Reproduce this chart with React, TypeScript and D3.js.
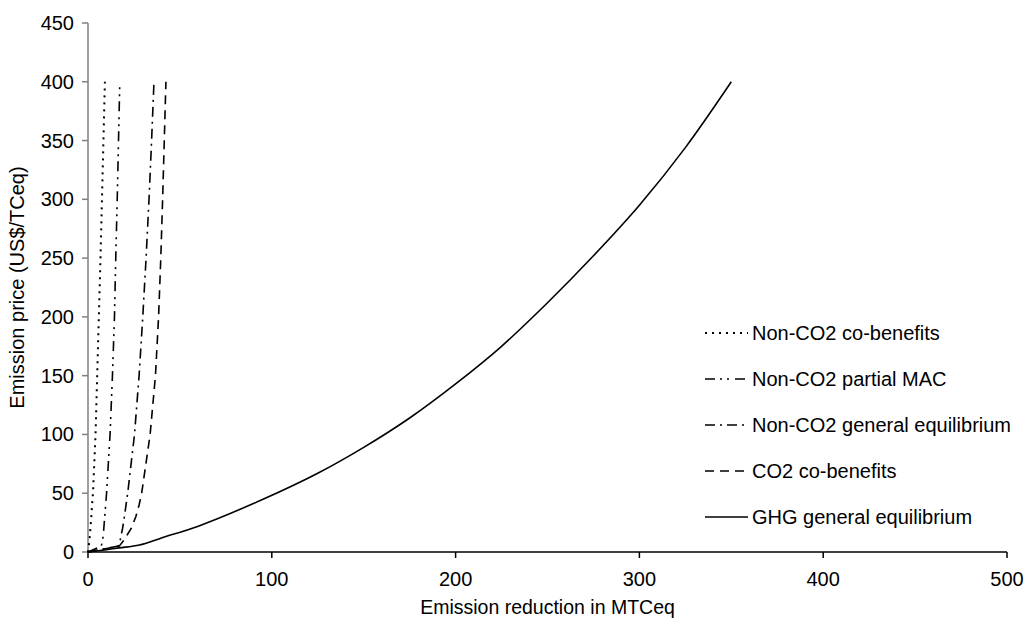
import React from "react";
import * as d3 from "d3";

const priceLevels = [0, 5, 10, 20, 30, 40, 50, 100, 150, 200, 250, 300, 350, 400];
const nonCo2CoBenefitsX = [0, 0.4, 0.8, 1.3, 1.8, 2.2, 2.7, 4.1, 5.0, 5.9, 6.8, 7.6, 8.4, 9.2];
const nonCo2PartialMacX = [0, 7.2, 8.0, 8.6, 9.1, 9.6, 10.1, 12.0, 13.3, 14.4, 15.1, 15.9, 16.6, 17.3];
const nonCo2GeneralEqX = [0, 16.5, 17.5, 18.8, 19.8, 20.7, 21.6, 25.3, 27.8, 29.8, 31.6, 33.2, 34.6, 35.9];
const co2CoBenefitsX = [0, 17, 19.5, 23.5, 26, 27.8, 29.2, 33.8, 36.7, 38.4, 39.6, 40.6, 41.5, 42.4];
const ghgX = [0, 10, 17, 28, 40, 60, 94, 125, 150, 175, 200, 225, 250, 275, 300, 325, 350];
const ghgPrice = [0, 2, 3.5, 6, 12, 22, 44, 67, 89, 114, 143, 175, 212, 252, 295, 344, 400];

const xTicks = [0, 100, 200, 300, 400, 500];
const yTicks = [0, 50, 100, 150, 200, 250, 300, 350, 400, 450];

const seriesNames = [
  "Non-CO2 co-benefits",
  "Non-CO2 partial MAC",
  "Non-CO2 general equilibrium",
  "CO2 co-benefits",
  "GHG general equilibrium",
];

const W = 1024;
const H = 628;
const left = 88;
const right = 1007;
const top = 23;
const bottom = 552;
const FONT = "'Liberation Sans', Arial, sans-serif";
const FS = 20;

export default function App() {
  const x = d3.scaleLinear().domain([0, 500]).range([left, right]);
  const y = d3.scaleLinear().domain([0, 450]).range([bottom, top]);

  const zip = (xs: number[], ps: number[]) => xs.map((v, i) => [v, ps[i]] as [number, number]);
  const data = [
    zip(nonCo2CoBenefitsX, priceLevels),
    zip(nonCo2PartialMacX, priceLevels),
    zip(nonCo2GeneralEqX, priceLevels),
    zip(co2CoBenefitsX, priceLevels),
    zip(ghgX, ghgPrice),
  ];
  const dashes = ["2,5", "10,5,2,5,2,6", "10,5,2,5", "9,6", ""];
  const lineLin = d3.line<[number, number]>().x((d) => x(d[0])).y((d) => y(d[1]));
  const lineSmooth = d3
    .line<[number, number]>()
    .x((d) => x(d[0]))
    .y((d) => y(d[1]))
    .curve(d3.curveCatmullRom.alpha(0.5));

  const legendY = [333, 379, 425, 471, 517];

  return (
    <svg
      width={W}
      height={H}
      style={{ position: "absolute", left: 0, top: 0, background: "#fff" }}
      fontFamily={FONT}
    >
      <rect x={0} y={0} width={W} height={H} fill="#fff" />
      {/* y axis */}
      <line x1={left} x2={left} y1={top} y2={bottom} stroke="#808080" strokeWidth={1.5} />
      {yTicks.map((t) => (
        <g key={"y" + t}>
          <line x1={left - 6} x2={left} y1={y(t)} y2={y(t)} stroke="#808080" strokeWidth={1.5} />
          <text x={left - 14} y={y(t)} dy="0.35em" textAnchor="end" fontSize={FS} fill="#000">
            {t}
          </text>
        </g>
      ))}
      {/* x axis */}
      <line x1={left} x2={right} y1={bottom} y2={bottom} stroke="#000" strokeWidth={1.5} />
      {xTicks.map((t) => (
        <g key={"x" + t}>
          <line x1={x(t)} x2={x(t)} y1={bottom} y2={bottom + 6} stroke="#000" strokeWidth={1.5} />
          <text x={x(t)} y={586} textAnchor="middle" fontSize={FS} fill="#000">
            {t}
          </text>
        </g>
      ))}
      <text x={(left + right) / 2} y={614} textAnchor="middle" fontSize={19.5} fill="#000">
        Emission reduction in MTCeq
      </text>
      <text
        transform={`translate(24, ${(top + bottom) / 2}) rotate(-90)`}
        textAnchor="middle"
        fontSize={FS}
        fill="#000"
      >
        Emission price (US$/TCeq)
      </text>

      {data.map((d, i) => (
        <path
          key={"s" + i}
          d={(i === 4 ? lineSmooth : lineLin)(d) || ""}
          fill="none"
          stroke="#000"
          strokeWidth={i === 0 ? 2 : 1.6}
          strokeDasharray={dashes[i] || undefined}
        />
      ))}

      {seriesNames.map((n, i) => (
        <g key={"l" + i}>
          <line
            x1={705}
            x2={748}
            y1={legendY[i]}
            y2={legendY[i]}
            stroke="#000"
            strokeWidth={i === 0 ? 2 : 1.6}
            strokeDasharray={dashes[i] || undefined}
          />
          <text x={752} y={legendY[i]} dy="0.35em" fontSize={FS} fill="#000">
            {n}
          </text>
        </g>
      ))}
    </svg>
  );
}
